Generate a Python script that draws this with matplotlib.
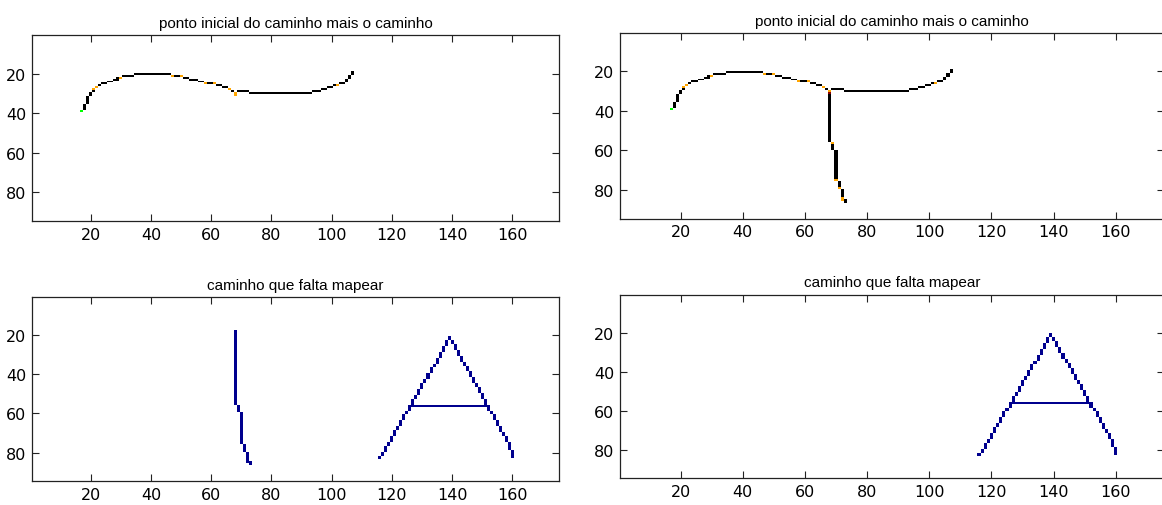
import numpy as np
import matplotlib
matplotlib.use('Agg')
import matplotlib.pyplot as plt

# tamanho da imagem (linhas x colunas)
NLIN, NCOL = 94, 175

# caminho principal: trechos verticais (coluna, linha_ini, linha_fim)
caminho_v = [(18, 36, 38), (19, 32, 35), (20, 30, 31),
             (105, 23, 24), (106, 21, 22), (107, 19, 20)]
# caminho principal: trechos horizontais (linha, col_ini, col_fim)
caminho_h = [(29, 21, 21), (28, 21, 21), (27, 22, 22), (26, 23, 23),
             (25, 24, 25), (24, 26, 27), (23, 28, 29), (22, 29, 30),
             (21, 31, 34), (20, 35, 46), (21, 47, 50), (22, 51, 52),
             (23, 53, 55), (24, 56, 57), (25, 58, 61), (26, 62, 63),
             (27, 64, 65), (28, 66, 66), (29, 67, 67), (30, 68, 68),
             (29, 69, 72), (30, 73, 93), (29, 94, 96), (28, 97, 98),
             (27, 99, 100), (26, 101, 102), (25, 103, 104)]
# pontos marcados (linha, coluna)
marcas = [(28, 21), (27, 22), (22, 30), (21, 47), (21, 50), (25, 58),
          (25, 61), (28, 66), (30, 68), (26, 102)]
marca_extra_esq = [(31, 68)]
juncao_dir = [(31, 68)]
inicio = (39, 17)

# ramo que desce da juncao (coluna, linha_ini, linha_fim)
ramo_v = [(68, 32, 55), (69, 56, 59), (70, 60, 75), (71, 76, 79),
          (72, 80, 85), (73, 85, 86)]
ramo_marcas = [(56, 69), (75, 70), (79, 71), (84, 72), (85, 72)]
# ramo ainda nao mapeado (comeca mais acima)
ramo_falta = [(68, 18, 55), (69, 56, 59), (70, 60, 75), (71, 76, 79),
              (72, 80, 85), (73, 85, 86)]

# letra A (coluna, linha_ini, linha_fim)
A_esq = [(116, 82, 83), (117, 80, 81), (118, 77, 79), (119, 75, 76),
         (120, 72, 74), (121, 69, 71), (122, 67, 68), (123, 64, 66),
         (124, 61, 63), (125, 59, 60), (126, 56, 58), (127, 53, 55),
         (128, 51, 52), (129, 48, 50), (130, 45, 47), (131, 43, 44),
         (132, 40, 42), (133, 37, 39), (134, 35, 36), (135, 32, 34),
         (136, 29, 31), (137, 26, 28), (138, 23, 25), (139, 21, 22)]
A_dir = [(140, 23, 24), (141, 25, 27), (142, 28, 30), (143, 31, 33),
         (144, 34, 35), (145, 36, 38), (146, 39, 41), (147, 42, 44),
         (148, 45, 46), (149, 47, 49), (150, 50, 52), (151, 53, 55),
         (152, 56, 58), (153, 59, 60), (154, 61, 63), (155, 64, 66),
         (156, 67, 69), (157, 70, 71), (158, 72, 74), (159, 75, 78),
         (160, 79, 82)]
A_barra = [(56, 127, 151)]

titulos = ['ponto inicial do caminho mais o caminho',
           'ponto inicial do caminho mais o caminho',
           'caminho que falta mapear',
           'caminho que falta mapear']

PRETO = (0, 0, 0)
LARANJA = (1.0, 0.65, 0.0)
VERDE = (0.0, 1.0, 0.0)
AZUL = (0.0, 0.0, 0.56)
VERMELHO = (0.55, 0.0, 0.0)


def nova():
    return np.ones((NLIN, NCOL, 3))


def vert(img, trechos, cor):
    for c, r0, r1 in trechos:
        img[r0 - 1:r1, c - 1] = cor


def horiz(img, trechos, cor):
    for r, c0, c1 in trechos:
        img[r - 1, c0 - 1:c1] = cor


def pontos(img, lista, cor):
    for r, c in lista:
        img[r - 1, c - 1] = cor


# imagem 1
im1 = nova()
vert(im1, caminho_v, PRETO)
horiz(im1, caminho_h, PRETO)
pontos(im1, marcas + marca_extra_esq, LARANJA)
pontos(im1, [inicio], VERDE)

# imagem 2
im2 = nova()
vert(im2, caminho_v, PRETO)
horiz(im2, caminho_h, PRETO)
vert(im2, ramo_v, PRETO)
pontos(im2, marcas, LARANJA)
pontos(im2, ramo_marcas, LARANJA)
pontos(im2, juncao_dir, VERMELHO)
pontos(im2, [inicio], VERDE)

# imagem 3
im3 = nova()
vert(im3, ramo_falta, AZUL)
vert(im3, A_esq, AZUL)
vert(im3, A_dir, AZUL)
horiz(im3, A_barra, AZUL)

# imagem 4
im4 = nova()
vert(im4, A_esq, AZUL)
vert(im4, A_dir, AZUL)
horiz(im4, A_barra, AZUL)

W, H = 1162, 506
fig = plt.figure(figsize=(W / 100, H / 100), dpi=100)

# posicoes em pixels: esquerda, direita, topo, base
caixas = [(32, 559, 36, 222), (620, 1164, 34, 219.5),
          (32, 559, 298, 482), (620, 1164, 295.5, 479)]
imagens = [im1, im2, im3, im4]

for img, (x0, x1, y0, y1), tit in zip(imagens, caixas, titulos):
    ax = fig.add_axes([x0 / W, 1 - y1 / H, (x1 - x0) / W, (y1 - y0) / H])
    ax.imshow(img, aspect='auto', interpolation='nearest',
              extent=(0.5, NCOL + 0.5, NLIN + 0.5, 0.5))
    ax.set_xlim(0.5, NCOL + 0.5)
    ax.set_ylim(NLIN + 0.5, 0.5)
    ax.set_xticks([20, 40, 60, 80, 100, 120, 140, 160])
    ax.set_yticks([20, 40, 60, 80])
    ax.tick_params(direction='in', top=True, right=True, length=5,
                   width=0.8, pad=4, colors='#222222', labelcolor='black')
    for lab in ax.get_xticklabels() + ax.get_yticklabels():
        lab.set_family(['Liberation Sans Narrow', 'DejaVu Sans'])
        lab.set_fontsize(11.5)
    for s in ax.spines.values():
        s.set_linewidth(0.9)
        s.set_color('#222222')
    ax.set_title(tit, family=['Liberation Sans', 'DejaVu Sans'],
                 fontsize=11, pad=6)

fig.savefig('out.png', dpi=100)
